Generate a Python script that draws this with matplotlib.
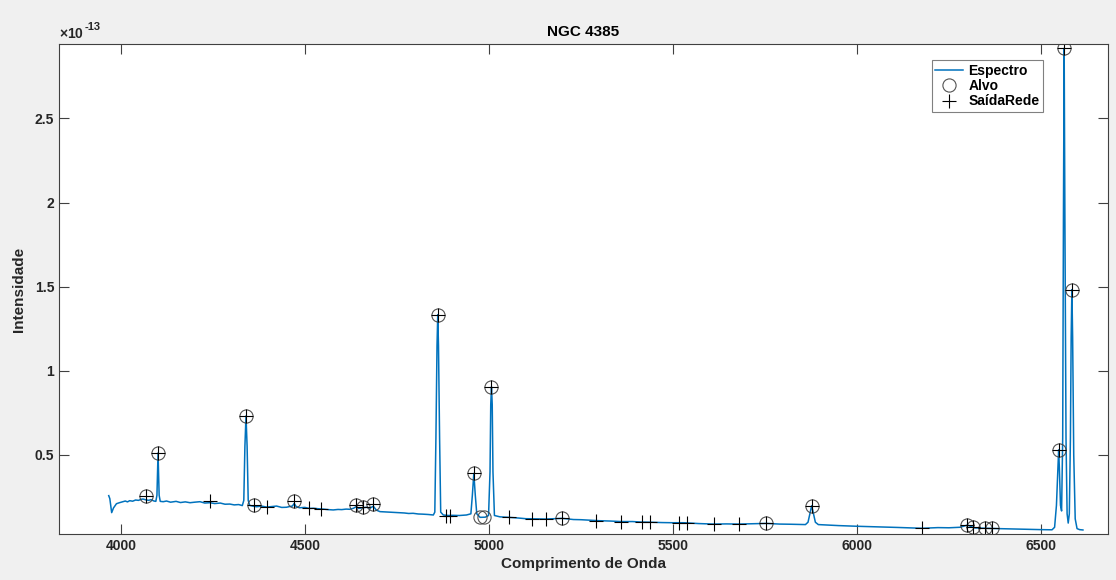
import matplotlib.pyplot as plt
from matplotlib.ticker import FormatStrFormatter

# Spectrum of NGC 4385 (intensity in units of 1e-13)
wavelength = [
    3967, 3970, 3975, 3980, 3988, 3996, 4005, 4012, 4018, 4024, 4032, 4040, 4048,
    4055, 4060, 4068, 4075, 4082, 4090, 4095, 4098, 4100, 4101, 4102, 4104, 4107,
    4115, 4124, 4135, 4150, 4162, 4175, 4188, 4200, 4215, 4228, 4242, 4255, 4270,
    4283, 4296, 4308, 4320, 4330, 4334, 4337, 4340, 4343, 4346, 4350, 4360, 4369,
    4382, 4396, 4410, 4423, 4437, 4450, 4460, 4466, 4471, 4476, 4485, 4500, 4512,
    4523, 4537, 4550, 4563, 4577, 4590, 4600, 4612, 4622, 4632, 4639, 4646, 4657,
    4668, 4677, 4686, 4694, 4704, 4720, 4740, 4755, 4770, 4782, 4794, 4808, 4820,
    4835, 4849, 4853, 4856, 4859, 4861, 4863, 4866, 4869, 4876, 4890, 4900, 4920,
    4939, 4951, 4955, 4959, 4963, 4967, 4976, 4990, 4999, 5003, 5005, 5007, 5009,
    5011, 5015, 5030, 5054, 5080, 5100, 5130, 5156, 5180, 5199, 5230, 5250, 5275,
    5300, 5330, 5358, 5390, 5415, 5440, 5470, 5500, 5530, 5570, 5611, 5645, 5679,
    5720, 5754, 5790, 5820, 5860, 5867, 5872, 5877, 5882, 5887, 5895, 5950, 6000,
    6050, 6110, 6177, 6220, 6250, 6280, 6300, 6320, 6350, 6385, 6420, 6460, 6500,
    6530, 6537, 6542, 6546, 6548, 6550, 6553, 6556, 6559, 6561, 6563, 6565, 6568,
    6571, 6574, 6577, 6580, 6582, 6584, 6586, 6589, 6593, 6598, 6605, 6614,
]
intensity = [
    0.258, 0.240, 0.157, 0.185, 0.210, 0.216, 0.222, 0.226, 0.221, 0.228, 0.225,
    0.232, 0.230, 0.236, 0.238, 0.233, 0.230, 0.234, 0.226, 0.224, 0.260, 0.420,
    0.512, 0.420, 0.260, 0.224, 0.222, 0.226, 0.219, 0.224, 0.217, 0.221, 0.216,
    0.219, 0.222, 0.214, 0.216, 0.211, 0.214, 0.207, 0.208, 0.203, 0.205, 0.199,
    0.230, 0.550, 0.732, 0.550, 0.230, 0.200, 0.195, 0.192, 0.196, 0.190, 0.193,
    0.196, 0.188, 0.189, 0.194, 0.196, 0.212, 0.194, 0.186, 0.188, 0.182, 0.183,
    0.180, 0.178, 0.175, 0.173, 0.176, 0.175, 0.178, 0.177, 0.183, 0.192, 0.182,
    0.186, 0.189, 0.184, 0.195, 0.172, 0.163, 0.161, 0.158, 0.156, 0.155, 0.152,
    0.153, 0.149, 0.148, 0.146, 0.143, 0.160, 0.600, 1.150, 1.333, 1.150, 0.600,
    0.160, 0.143, 0.140, 0.141, 0.140, 0.143, 0.150, 0.260, 0.390, 0.260, 0.150,
    0.129, 0.130, 0.140, 0.400, 0.800, 0.905, 0.800, 0.400, 0.140, 0.132, 0.129,
    0.125, 0.121, 0.120, 0.119, 0.121, 0.123, 0.116, 0.115, 0.112, 0.109, 0.107,
    0.104, 0.104, 0.101, 0.100, 0.098, 0.097, 0.097, 0.092, 0.089, 0.090, 0.089,
    0.091, 0.093, 0.089, 0.088, 0.086, 0.100, 0.150, 0.198, 0.150, 0.100, 0.086,
    0.080, 0.076, 0.073, 0.069, 0.064, 0.068, 0.067, 0.070, 0.083, 0.066, 0.064,
    0.062, 0.060, 0.058, 0.056, 0.055, 0.070, 0.200, 0.420, 0.530, 0.420, 0.200,
    0.167, 0.600, 1.900, 2.917, 1.900, 0.600, 0.150, 0.095, 0.150, 0.600, 1.200,
    1.482, 1.200, 0.500, 0.120, 0.062, 0.056, 0.054,
]

# target lines (Alvo)
alvo_wl = [4068, 4101, 4340, 4361, 4471, 4639, 4657, 4686, 4861, 4959, 4976,
           4986, 5007, 5199, 5754, 5877, 6300, 6314, 6348, 6366, 6548, 6563, 6584]
alvo_int = [0.256, 0.512, 0.732, 0.200, 0.226, 0.200, 0.190, 0.206, 1.333, 0.390,
            0.129, 0.129, 0.905, 0.123, 0.093, 0.198, 0.083, 0.071, 0.064, 0.066,
            0.530, 2.917, 1.482]

# network output (SaidaRede)
rede_wl = [4068, 4101, 4242, 4340, 4361, 4396, 4471, 4511, 4544, 4639, 4657,
           4686, 4861, 4883, 4894, 4959, 5007, 5054, 5117, 5156, 5199, 5291,
           5358, 5415, 5437, 5517, 5537, 5611, 5679, 5754, 5877, 6177, 6300,
           6314, 6348, 6366, 6548, 6563, 6584]
rede_int = [0.256, 0.512, 0.224, 0.732, 0.200, 0.190, 0.226, 0.186, 0.178, 0.200,
            0.190, 0.206, 1.333, 0.139, 0.139, 0.390, 0.905, 0.129, 0.119, 0.119,
            0.123, 0.107, 0.104, 0.101, 0.101, 0.098, 0.098, 0.089, 0.089, 0.093,
            0.198, 0.064, 0.083, 0.071, 0.064, 0.066, 0.530, 2.917, 1.482]

plt.rcParams['font.family'] = ['Liberation Sans', 'DejaVu Sans']
plt.rcParams['font.weight'] = 'bold'
plt.rcParams['mathtext.fontset'] = 'custom'
plt.rcParams['mathtext.rm'] = 'Liberation Sans'
plt.rcParams['mathtext.bf'] = 'Liberation Sans:bold'

fig = plt.figure(figsize=(11.16, 5.8), dpi=100, facecolor='#f0f0f0')
ax = fig.add_axes([0.0529, 0.0793, 0.9399, 0.8448])

ax.plot(wavelength, intensity, color='#0072bd', lw=1.1, label='Espectro')
ax.plot(alvo_wl, alvo_int, 'o', ms=9.5, mfc='none', mec='#404040', mew=0.8,
        alpha=0.9, label='Alvo')
ax.plot(rede_wl, rede_int, '+', ms=9.5, mec='black', mew=0.8, label='SaídaRede')

ax.set_xlim(3832, 6682)
ax.set_ylim(0.03, 2.942)
ax.set_xticks([4000, 4500, 5000, 5500, 6000, 6500])
ax.set_yticks([0.5, 1, 1.5, 2, 2.5])
ax.yaxis.set_major_formatter(FormatStrFormatter('%g'))

ax.tick_params(direction='in', length=7, width=0.8, color='#404040',
               labelsize=10, labelcolor='#262626', top=True, right=True)
for side in ax.spines.values():
    side.set_color('#404040')
    side.set_linewidth(0.8)

# exponent label for the y axis
ax.text(0, 1.006, r'$\times$10', transform=ax.transAxes,
        ha='left', va='bottom', fontsize=10, color='#262626')
ax.text(0.0245, 1.024, '-13', transform=ax.transAxes,
        ha='left', va='bottom', fontsize=8, color='#262626')

ax.set_title('NGC 4385', fontsize=11, fontweight='bold', color='black', pad=6)
ax.set_xlabel('Comprimento de Onda', fontsize=11, fontweight='bold',
              color='#262626', labelpad=3)
ax.set_ylabel('Intensidade', fontsize=11, fontweight='bold', color='#262626',
              labelpad=6)

leg = ax.legend(loc='upper right', bbox_to_anchor=(0.938, 0.967), fontsize=10,
                frameon=True, fancybox=False, framealpha=1, edgecolor='#808080',
                handlelength=2.0, borderpad=0.25, labelspacing=0.1,
                handletextpad=0.4, borderaxespad=0)
leg.get_frame().set_linewidth(0.8)

fig.savefig('out.png', dpi=100, facecolor=fig.get_facecolor())
